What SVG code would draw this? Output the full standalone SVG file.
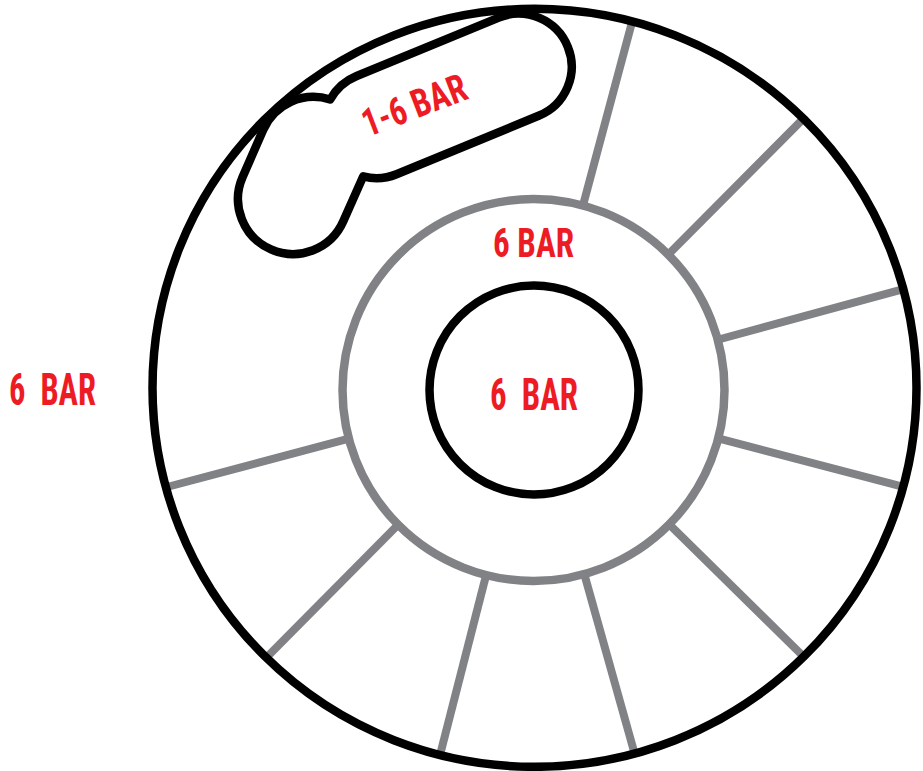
<svg xmlns="http://www.w3.org/2000/svg" width="923" height="771" viewBox="0 0 923 771">
<style>
.blk{fill:none;stroke:#000;stroke-width:8.5}
.gry{fill:none;stroke:#808285;stroke-width:8.5}
.spk{stroke:#808285;stroke-width:8}
.lbl{fill:#ED1C24;font-family:'Liberation Sans Narrow','Roboto Condensed','DejaVu Sans Condensed','Liberation Sans',sans-serif;font-weight:bold}
</style>
<rect width="923" height="771" fill="#fff"/>
<g id="connectors">
<line class="spk" x1="582.7" y1="206.5" x2="632.6" y2="20"/>
<line class="spk" x1="667.5" y1="255.3" x2="803.4" y2="118.6"/>
<line class="spk" x1="716.8" y1="340" x2="902.5" y2="289.4"/>
<line class="spk" x1="717.3" y1="438.1" x2="902.5" y2="486.6"/>
<line class="spk" x1="668.5" y1="523.7" x2="805" y2="658"/>
<line class="spk" x1="584" y1="573.2" x2="635" y2="755"/>
<line class="spk" x1="486.4" y1="574" x2="440" y2="755"/>
<line class="spk" x1="398.8" y1="524" x2="266" y2="658"/>
<line class="spk" x1="349.8" y1="438.3" x2="167" y2="487"/>
</g>
<g id="outer-ring">
<ellipse class="blk" cx="534.5" cy="387.8" rx="382" ry="379"/>
<text class="lbl" x="9" y="405" font-size="44" textLength="87" lengthAdjust="spacingAndGlyphs" xml:space="preserve">6  BAR</text>
</g>
<g id="middle-ring">
<circle class="gry" cx="533.5" cy="390" r="191"/>
<text class="lbl" x="493" y="257.3" font-size="41" textLength="81" lengthAdjust="spacingAndGlyphs">6 BAR</text>
</g>
<g id="inner-circle">
<circle class="blk" cx="534" cy="390" r="104.5"/>
<text class="lbl" x="490" y="410" font-size="45" textLength="88" lengthAdjust="spacingAndGlyphs" xml:space="preserve">6  BAR</text>
</g>
<g id="pill">
<path class="blk" stroke-width="10" stroke-linejoin="round" d="M330.2,99.5 A53,53 0 0 1 356.7,76 L498.8,17.6 A53,53 0 0 1 567.8,46.8 A53,53 0 0 1 538.6,115.8 L396.5,174.2 A53,53 0 0 1 363.2,176.4 L343.4,221 A55,55 0 0 1 271,249.4 A55,55 0 0 1 242.6,177 L263.1,130 A55,55 0 0 1 330.2,99.5 Z"/>
<text class="lbl" x="419" y="117.7" font-size="39" text-anchor="middle" textLength="109" lengthAdjust="spacingAndGlyphs" transform="rotate(-20.8 419 117.7)">1-6 BAR</text>
</g>
</svg>
